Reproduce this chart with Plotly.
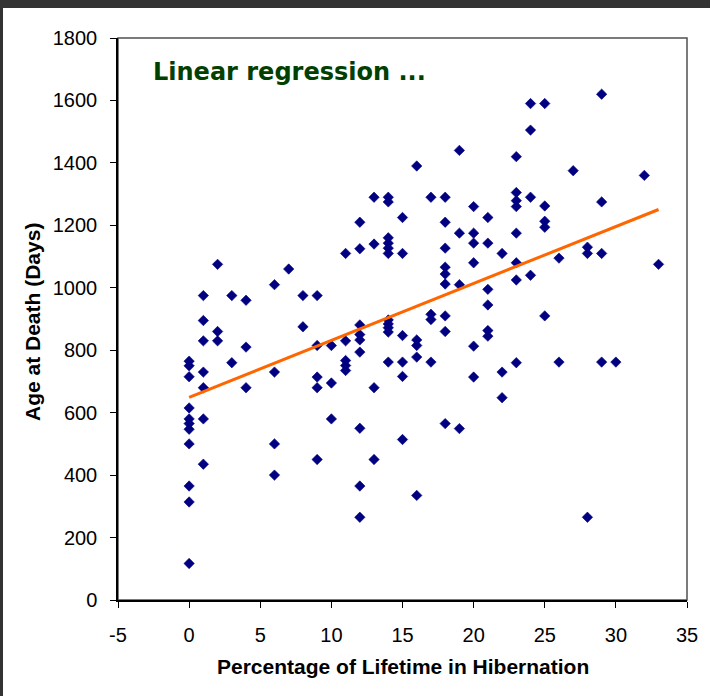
import numpy as np
import plotly.graph_objects as go

# Percentage of lifetime in hibernation, grouped with the ages at death
pct_values = [0, 1, 2, 3, 4, 6, 7, 8, 9, 10, 11, 12, 13, 14, 15, 16, 17, 18, 19, 20,
              21, 22, 23, 24, 25, 26, 27, 28, 29, 30, 32, 33]
age_groups = [
    [765, 750, 715, 615, 580, 565, 547, 500, 365, 314, 117],
    [975, 895, 830, 730, 680, 580, 435],
    [1075, 860, 830],
    [975, 760],
    [960, 810, 680],
    [1010, 730, 500, 400],
    [1060],
    [975, 875],
    [975, 815, 714, 680, 450],
    [815, 695, 580],
    [1110, 830, 767, 751, 735],
    [1210, 1125, 881, 850, 833, 794, 550, 365, 265],
    [1290, 1140, 680, 450],
    [1290, 1275, 1160, 1143, 1127, 1110, 897, 884, 872, 858, 762],
    [1225, 1110, 847, 762, 716, 514],
    [1390, 833, 815, 778, 335],
    [1290, 915, 898, 762],
    [1290, 1210, 1127, 1066, 1044, 1012, 910, 860, 565],
    [1440, 1175, 1010, 549],
    [1260, 1175, 1143, 1080, 813, 714],
    [1225, 1143, 995, 945, 863, 845],
    [1110, 730, 648],
    [1420, 1305, 1279, 1260, 1175, 1080, 1025, 760],
    [1590, 1505, 1290, 1040],
    [1590, 1262, 1213, 1194, 910],
    [1095, 762],
    [1375],
    [1130, 1110, 265],
    [1620, 1275, 1110, 762],
    [762],
    [1360],
    [1075],
]

x_ticks = [-5, 0, 5, 10, 15, 20, 25, 30, 35]
y_ticks = [0, 200, 400, 600, 800, 1000, 1200, 1400, 1600, 1800]

title_text = "Linear regression ..."
x_title = "Percentage of Lifetime in Hibernation"
y_title = "Age at Death (Days)"

xs = []
ys = []
for p, grp in zip(pct_values, age_groups):
    for a in grp:
        xs.append(p)
        ys.append(a)
xs = np.array(xs, dtype=float)
ys = np.array(ys, dtype=float)

slope, intercept = np.polyfit(xs, ys, 1)
fit_x = np.array([xs.min(), xs.max()])
fit_y = intercept + slope * fit_x

W, H = 710, 696
ML, MR, MT, MB = 118, 23, 38, 96
PW = W - ML - MR
PH = H - MT - MB

def px(x):
    return (x - ML) / PW

def py(y):
    return (H - MB - y) / PH

fig = go.Figure()
fig.add_trace(go.Scatter(
    x=xs, y=ys, mode="markers",
    marker=dict(symbol="diamond", size=8, color="#000080",
                line=dict(width=0.6, color="#000080")),
    showlegend=False, hoverinfo="x+y",
))
fig.add_trace(go.Scatter(
    x=fit_x, y=fit_y, mode="lines",
    line=dict(color="#FF6600", width=3),
    showlegend=False, hoverinfo="skip",
))

axis_font = dict(family="Liberation Sans, Arial, sans-serif", size=20, color="#000000")

fig.update_layout(
    width=W, height=H,
    margin=dict(l=ML, r=MR, t=MT, b=MB, pad=0),
    paper_bgcolor="#ffffff",
    plot_bgcolor="#ffffff",
    xaxis=dict(range=[-5, 35], tickvals=x_ticks, ticktext=[str(v) for v in x_ticks],
               showgrid=False, zeroline=False, showline=True, linecolor="#000000",
               linewidth=1.5, ticks="outside", ticklen=6, tickcolor="#000000",
               tickwidth=1, tickfont=axis_font, ticklabelstandoff=10),
    yaxis=dict(range=[0, 1800], tickvals=y_ticks, ticktext=[str(v) for v in y_ticks],
               showgrid=False, zeroline=False, showline=True, linecolor="#000000",
               linewidth=1.5, ticks="outside", ticklen=6, tickcolor="#000000",
               tickwidth=1, tickfont=axis_font, ticklabelstandoff=9),
    shapes=[
        dict(type="rect", xref="paper", yref="paper", x0=0, x1=1, y0=0, y1=1,
             line=dict(color="#505050", width=1.5), fillcolor="rgba(0,0,0,0)", layer="below"),
        dict(type="rect", xref="paper", yref="paper", x0=px(-5), x1=px(W + 5),
             y0=py(8), y1=py(-5), line=dict(width=0), fillcolor="#333333", layer="above"),
        dict(type="rect", xref="paper", yref="paper", x0=px(-5), x1=px(3),
             y0=py(H + 5), y1=py(-5), line=dict(width=0), fillcolor="#333333", layer="above"),
    ],
    annotations=[
        dict(text="<b>" + title_text + "</b>", xref="paper", yref="paper",
             x=px(151), y=py(72), xanchor="left", yanchor="middle", showarrow=False,
             font=dict(family="DejaVu Sans, Verdana, sans-serif", size=24, color="#004000")),
        dict(text="<b>" + x_title + "</b>", xref="paper", yref="paper",
             x=px(402.5), y=py(666), xanchor="center", yanchor="middle", showarrow=False,
             font=dict(family="Liberation Sans, Arial, sans-serif", size=21, color="#000000")),
        dict(text="<b>" + y_title + "</b>", xref="paper", yref="paper",
             x=px(33), y=py(322), xanchor="center", yanchor="middle", showarrow=False,
             textangle=-90,
             font=dict(family="Liberation Sans, Arial, sans-serif", size=21, color="#000000")),
    ],
)

fig.write_html("out.html")
